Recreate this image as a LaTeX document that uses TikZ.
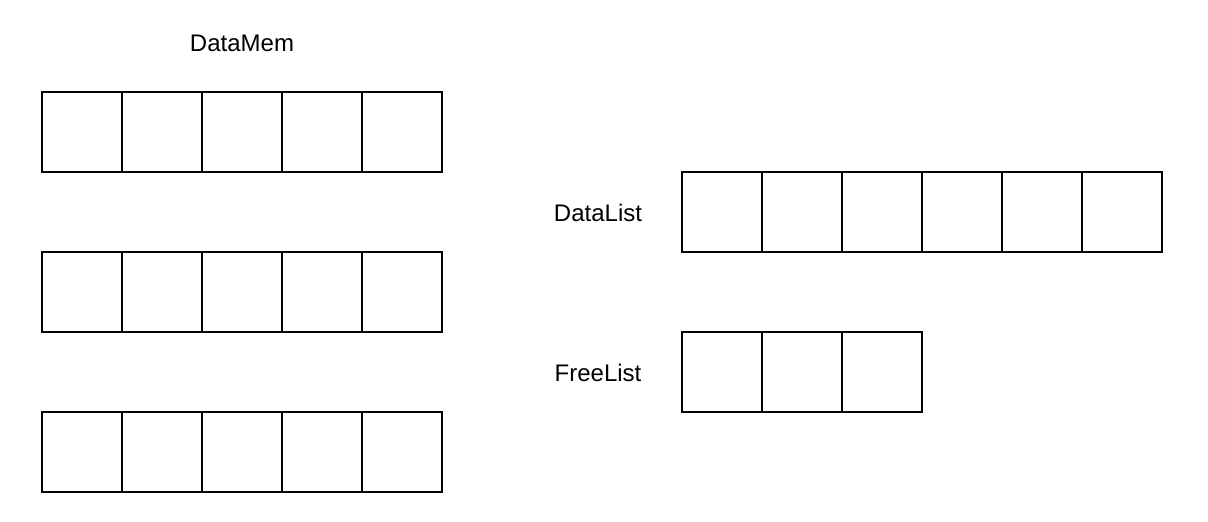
\documentclass[tikz,border=0pt]{standalone}
\usepackage{fontspec}
\setmainfont{Liberation Sans}
\usepackage{tikz}
\tikzstyle{cell}=[draw,line width=1pt,minimum size=40pt,inner sep=0pt,outer sep=0pt]
\tikzstyle{label}=[font=\fontsize{12}{14}\selectfont]

\begin{document}
\begin{tikzpicture}[x=0.5pt,y=-0.5pt]
      \useasboundingbox (0,0) rectangle (1208,522);

      % DataMem
      \node[label] (datamem) at (242, 43) {DataMem};
      \begin{scope}
        \node[cell] (m1a) at (82, 132.5) {};
        \node[cell] (m1b) at (162, 132.5) {};
        \node[cell] (m1c) at (242, 132.5) {};
        \node[cell] (m1d) at (322, 132.5) {};
        \node[cell] (m1e) at (402, 132.5) {};
      \end{scope}

      \begin{scope}[yshift=-80pt]
        \node[cell] (m2a) at (82, 132.5) {};
        \node[cell] (m2b) at (162, 132.5) {};
        \node[cell] (m2c) at (242, 132.5) {};
        \node[cell] (m2d) at (322, 132.5) {};
        \node[cell] (m2e) at (402, 132.5) {};
      \end{scope}

      \begin{scope}[yshift=-160pt]
        \node[cell] (m3a) at (82, 132.5) {};
        \node[cell] (m3b) at (162, 132.5) {};
        \node[cell] (m3c) at (242, 132.5) {};
        \node[cell] (m3d) at (322, 132.5) {};
        \node[cell] (m3e) at (402, 132.5) {};
      \end{scope}

      % DataList
      \node[label] (datalist) at (598, 213) {DataList};
      \node[cell] (d1) at (722, 212.5) {};
      \node[cell] (d2) at (802, 212.5) {};
      \node[cell] (d3) at (882, 212.5) {};
      \node[cell] (d4) at (962, 212.5) {};
      \node[cell] (d5) at (1042, 212.5) {};
      \node[cell] (d6) at (1122, 212.5) {};

      % FreeList
      \node[label] (freelist) at (598, 373) {FreeList};
      \node[cell] (f1) at (722, 372.5) {};
      \node[cell] (f2) at (802, 372.5) {};
      \node[cell] (f3) at (882, 372.5) {};
    \end{tikzpicture}
\end{document}
